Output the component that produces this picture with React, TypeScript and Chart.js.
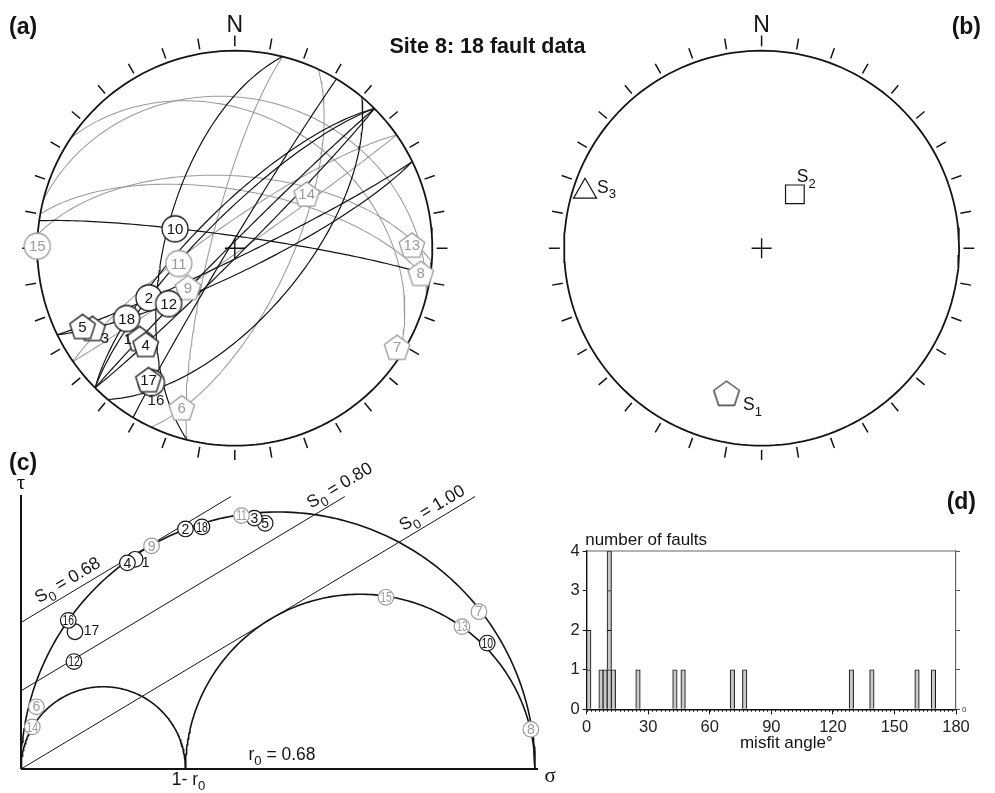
import React, { useEffect, useRef } from "react";
import { Chart, registerables } from "chart.js";

Chart.register(...registerables);

// ================= DATA =================
const siteName = "Site 8";
const faultNumbers = [1, 2, 3, 4, 5, 6, 7, 8, 9, 10, 11, 12, 13, 14, 15, 16, 17, 18];
// fault planes (dip direction / dip, degrees)
const planeDipDirection = [315, 315, 154, 135, 154, 284, 34, 10, 145, 8, 325, 284, 14, 115, 4, 301, 130, 315];
const planeDip = [88, 77, 80, 87, 86, 80, 34, 66, 88, 85, 80, 61, 25, 67, 60, 88, 62, 74];
// striae (trend / plunge, degrees)
const striaeTrend = [226.5, 240, 240.6, 222.8, 242.8, 198.4, 121.4, 97.7, 230, 288, 254.7, 230, 89, 53, 270.6, 211.8, 213.3, 237];
const striaePlunge = [34, 48.4, 18.4, 34, 14.4, 16, 4.2, 5.6, 64.7, 64, 66, 54, 11.3, 52.4, 0, 21, 21.5, 35];
const markerShape = ["pentagon", "circle", "pentagon", "pentagon", "pentagon", "pentagon", "pentagon", "pentagon", "pentagon", "circle", "circle", "circle", "pentagon", "pentagon", "circle", "circle", "pentagon", "circle"];
const highMisfit = [false, false, false, false, false, true, true, true, true, false, true, false, true, true, true, false, false, false];

// Mohr diagram (normalised sigma / tau)
const mohrSigma = [0.222, 0.32, 0.454, 0.207, 0.475, 0.03, 0.891, 0.992, 0.254, 0.907, 0.429, 0.103, 0.858, 0.022, 0.71, 0.092, 0.105, 0.352];
const mohrTau = [0.408, 0.467, 0.488, 0.401, 0.478, 0.121, 0.306, 0.077, 0.434, 0.245, 0.493, 0.209, 0.277, 0.082, 0.334, 0.289, 0.267, 0.471];
const r0 = 0.68;
const s0Values = [0.68, 0.8, 1.0];
const s0Intercepts = [0.285, 0.152, 0];
const s0Slope = 0.6;
const tauAxisMax = 0.533;
const sigmaAxisMax = 1.006;

// principal stress axes
const stressAxes = ["1", "2", "3"];
const stressTrend = [193.6, 31.7, 287.8];
const stressPlunge = [25.4, 63.8, 6.8];

// misfit histogram
const misfitBinStart = [0, 6, 8, 10, 12, 24, 42, 46, 70, 76, 128, 138, 160, 168];
const misfitBinCount = [2, 1, 1, 4, 1, 1, 1, 1, 1, 1, 1, 1, 1, 1];
const misfitBinWidth = 2;
const misfitMax = 180;
const misfitTickStep = 30;
const countMax = 4;

// ================= STYLE / LAYOUT =================
const FONT = "'Liberation Sans', Arial, Helvetica, sans-serif";
const SERIF = "'Liberation Serif', 'Times New Roman', serif";
const BLACK = "#141414";
const GREY = "#9a9a9a";
const D2R = Math.PI / 180;

function projectLine(trend: number, plunge: number) {
  const r = Math.SQRT2 * Math.sin(((90 - plunge) / 2) * D2R);
  return { x: r * Math.sin(trend * D2R), y: r * Math.cos(trend * D2R) };
}

function greatCircle(dipDir: number, dip: number) {
  const st = (dipDir - 90) * D2R;
  const dd = dipDir * D2R;
  const d = dip * D2R;
  const pts: { x: number; y: number }[] = [];
  for (let a = 0; a <= 180; a += 2) {
    const ca = Math.cos(a * D2R);
    const sa = Math.sin(a * D2R);
    const e = ca * Math.sin(st) + sa * Math.cos(d) * Math.sin(dd);
    const n = ca * Math.cos(st) + sa * Math.cos(d) * Math.cos(dd);
    const down = sa * Math.sin(d);
    const plunge = Math.asin(Math.max(-1, Math.min(1, down))) / D2R;
    const trend = Math.atan2(e, n) / D2R;
    pts.push(projectLine(trend, plunge));
  }
  return pts;
}

function markerCanvas(shape: string, color: string, size: number, lw = 1.3) {
  const pad = 3;
  const S = Math.ceil(size + pad * 2);
  const c = document.createElement("canvas");
  c.width = S;
  c.height = S;
  const g = c.getContext("2d")!;
  g.translate(S / 2, S / 2);
  g.beginPath();
  if (shape === "circle") {
    g.arc(0, 0, size / 2, 0, Math.PI * 2);
  } else {
    const r = size / 1.902;
    const yOff = (r * (1 - Math.cos(36 * D2R))) / 2;
    for (let i = 0; i < 5; i++) {
      const ang = (-90 + 72 * i) * D2R;
      const px = r * Math.cos(ang);
      const py = r * Math.sin(ang) + yOff;
      if (i === 0) g.moveTo(px, py);
      else g.lineTo(px, py);
    }
    g.closePath();
  }
  g.fillStyle = "#fff";
  g.fill();
  g.strokeStyle = color;
  g.lineWidth = lw;
  g.stroke();
  return c;
}

type Seg = { t: string; sub?: boolean };
function drawRich(ctx: CanvasRenderingContext2D, segs: Seg[], x: number, y: number, size: number, align: "left" | "center", color: string, family = FONT, weight = "") {
  const subSize = size * 0.75;
  ctx.save();
  ctx.fillStyle = color;
  ctx.textAlign = "left";
  ctx.textBaseline = "alphabetic";
  let w = 0;
  const ws: number[] = [];
  for (const s of segs) {
    ctx.font = `${weight} ${s.sub ? subSize : size}px ${family}`;
    const m = ctx.measureText(s.t).width;
    ws.push(m);
    w += m;
  }
  let cx = align === "center" ? x - w / 2 : x;
  segs.forEach((s, i) => {
    ctx.font = `${weight} ${s.sub ? subSize : size}px ${family}`;
    ctx.fillText(s.t, cx, y + (s.sub ? size * 0.3 : 0));
    cx += ws[i];
  });
  ctx.restore();
}

function lineDs(data: any[], color: string, width: number, xID: string, yID: string, extra: any = {}) {
  return {
    type: "scatter",
    data,
    showLine: true,
    borderColor: color,
    borderWidth: width,
    pointRadius: 0,
    fill: false,
    tension: 0,
    xAxisID: xID,
    yAxisID: yID,
    order: 10,
    ...extra,
  };
}

function primitiveData() {
  const pts = [];
  for (let t = 0; t <= 360; t += 2) pts.push(projectLine(t, 0));
  return pts;
}

function tickData() {
  const pts: any[] = [];
  for (let t = 0; t < 360; t += 10) {
    const s = Math.sin(t * D2R);
    const c = Math.cos(t * D2R);
    pts.push({ x: 1.022 * s, y: 1.022 * c });
    pts.push({ x: 1.077 * s, y: 1.077 * c });
    pts.push({ x: NaN, y: NaN });
  }
  return pts;
}

// marker-label helper (draws labels right after the marker dataset)
const markerLabelPlugin = {
  id: "markerLabels",
  afterDatasetDraw(chart: any, args: any) {
    const ds = chart.data.datasets[args.index];
    if (!ds.markerLabels) return;
    const meta = chart.getDatasetMeta(args.index);
    const ctx = chart.ctx as CanvasRenderingContext2D;
    ctx.save();
    ctx.textAlign = "center";
    ctx.textBaseline = "middle";
    meta.data.forEach((el: any, i: number) => {
      const txt = ds.markerLabels[i];
      const off = ds.labelOffsets ? ds.labelOffsets[i] : null;
      ctx.fillStyle = ds.labelColors[i];
      const size = off ? ds.outsideFontSize : ds.fontSize;
      ctx.font = `${size}px ${FONT}`;
      const x = el.x + (off ? off[0] : 0);
      const y = el.y + (off ? off[1] : ds.textDy || 0);
      if (!off && txt.length > 1 && ds.condense) {
        ctx.save();
        ctx.translate(x, y);
        ctx.scale(ds.condense, 1);
        ctx.fillText(txt, 0, 0);
        ctx.restore();
      } else {
        ctx.fillText(txt, x, y);
      }
    });
    ctx.restore();
  },
};

// ================= TOP: stereonets (a) and (b) =================
function makeTop(canvas: HTMLCanvasElement) {
  const W = 995;
  const H = 460;
  const netA = { cx: 234.8, cy: 248.2, R: 197.5 };
  const netB = { cx: 761.6, cy: 248.2, R: 197.5 };

  const datasets: any[] = [];
  // (a) great circles: grey underneath, black on top
  const order = faultNumbers.map((_, i) => i);
  order.forEach((i) => {
    datasets.push(
      lineDs(greatCircle(planeDipDirection[i], planeDip[i]), highMisfit[i] ? GREY : BLACK, highMisfit[i] ? 1.05 : 1.2, "xa", "ya", {
        order: highMisfit[i] ? 12 : 11,
      })
    );
  });
  for (const ids of [["xa", "ya"], ["xb", "yb"]]) {
    datasets.push(lineDs(primitiveData(), BLACK, 1.8, ids[0], ids[1], { order: 9 }));
    datasets.push(lineDs(tickData(), BLACK, 1.5, ids[0], ids[1], { order: 9 }));
    datasets.push({
      type: "scatter",
      data: [{ x: 0, y: 0 }],
      pointStyle: "cross",
      pointRadius: 10,
      pointBorderColor: BLACK,
      pointBorderWidth: 1.4,
      xAxisID: ids[0],
      yAxisID: ids[1],
      order: 8,
    });
  }

  // fault striae markers
  const behindNums = [1, 3, 16];
  const outsideOffsets: Record<number, number[]> = { 1: [-12, 1], 3: [12.5, 10], 16: [4.5, 18] };
  const mk = (idxs: number[], ord: number) => ({
    type: "scatter",
    data: idxs.map((i) => projectLine(striaeTrend[i], striaePlunge[i])),
    pointStyle: idxs.map((i) => markerCanvas(markerShape[i], highMisfit[i] ? GREY : BLACK, markerShape[i] === "circle" ? 26 : 25.5)),
    pointRadius: 12,
    xAxisID: "xa",
    yAxisID: "ya",
    order: ord,
    markerLabels: idxs.map((i) => String(faultNumbers[i])),
    labelColors: idxs.map((i) => (highMisfit[i] ? GREY : BLACK)),
    labelOffsets: idxs.map((i) => outsideOffsets[faultNumbers[i]] || null),
    fontSize: 15,
    outsideFontSize: 15,
    textDy: 1,
  });
  datasets.push(mk(order.filter((i) => behindNums.includes(faultNumbers[i])), 2));
  datasets.push(mk(order.filter((i) => !behindNums.includes(faultNumbers[i])), 1));

  // (b) stress axes
  const stressStyles: any[] = [markerCanvas("pentagon", BLACK, 25.5, 1.2), "rect", "triangle"];
  const stressRadius = [12, 13.2, 13.3];
  datasets.push({
    type: "scatter",
    data: stressAxes.map((_, i) => projectLine(stressTrend[i], stressPlunge[i])),
    pointStyle: stressStyles,
    pointRadius: stressRadius,
    pointBackgroundColor: "#fff",
    pointBorderColor: BLACK,
    pointBorderWidth: 1.2,
    xAxisID: "xb",
    yAxisID: "yb",
    order: 0,
    stressLabels: true,
  });

  const textPlugin = {
    id: "topText",
    afterDraw(chart: any) {
      const ctx = chart.ctx as CanvasRenderingContext2D;
      const s = chart.scales;
      ctx.save();
      ctx.fillStyle = BLACK;
      ctx.textBaseline = "alphabetic";
      // N labels
      ctx.font = `23px ${FONT}`;
      ctx.textAlign = "center";
      ctx.fillText("N", s.xa.getPixelForValue(0), s.ya.getPixelForValue(1) - 18.5);
      ctx.fillText("N", s.xb.getPixelForValue(0), s.yb.getPixelForValue(1) - 18.5);
      // panel letters
      ctx.font = `bold 23px ${FONT}`;
      ctx.textAlign = "left";
      ctx.fillText("(a)", 9, 34);
      ctx.textAlign = "right";
      ctx.fillText("(b)", 981, 34);
      // title
      ctx.font = `bold 21.5px ${FONT}`;
      ctx.textAlign = "center";
      ctx.fillText(`${siteName}: ${faultNumbers.length} fault data`, 487.5, 53);
      ctx.restore();
      // stress labels
      const idx = chart.data.datasets.findIndex((d: any) => d.stressLabels);
      const meta = chart.getDatasetMeta(idx);
      const offs = [
        [16.5, 17],
        [2, -12],
        [12, 1.5],
      ];
      meta.data.forEach((el: any, i: number) => {
        drawRich(ctx, [{ t: "S" }, { t: stressAxes[i], sub: true }], el.x + offs[i][0], el.y + offs[i][1], 17.5, "left", BLACK);
      });
    },
  };

  return new Chart(canvas, {
    type: "scatter",
    data: { datasets },
    options: {
      animation: false,
      responsive: false,
      events: [],
      layout: { padding: 0, autoPadding: false } as any,
      plugins: { legend: { display: false }, tooltip: { enabled: false } },
      scales: {
        xa: { type: "linear", display: false, min: -netA.cx / netA.R, max: (W - netA.cx) / netA.R },
        ya: { type: "linear", display: false, min: -(H - netA.cy) / netA.R, max: netA.cy / netA.R },
        xb: { type: "linear", display: false, min: -netB.cx / netB.R, max: (W - netB.cx) / netB.R },
        yb: { type: "linear", display: false, min: -(H - netB.cy) / netB.R, max: netB.cy / netB.R },
      },
    } as any,
    plugins: [markerLabelPlugin, textPlugin],
  } as any);
}

// ================= (c) Mohr diagram =================
function makeMohr(canvas: HTMLCanvasElement) {
  const W = 560;
  const H = 353;
  const ox = 21;
  const oy = 329;
  const U = 514;

  const semi = (c: number, r: number) => {
    const pts = [];
    for (let a = 0; a <= 180; a += 1) pts.push({ x: c - r * Math.cos(a * D2R), y: r * Math.sin(a * D2R) });
    return pts;
  };
  const datasets: any[] = [];
  datasets.push(lineDs([{ x: 0, y: 0 }, { x: 0, y: tauAxisMax }], BLACK, 2, "x", "y"));
  datasets.push(lineDs([{ x: 0, y: 0 }, { x: sigmaAxisMax, y: 0 }], BLACK, 2, "x", "y"));
  datasets.push(lineDs(semi(0.5, 0.5), BLACK, 1.6, "x", "y"));
  datasets.push(lineDs(semi((1 - r0) / 2, (1 - r0) / 2), BLACK, 1.6, "x", "y"));
  datasets.push(lineDs(semi((1 + (1 - r0)) / 2, r0 / 2), BLACK, 1.6, "x", "y"));
  s0Values.forEach((_, k) => {
    const c = s0Intercepts[k];
    datasets.push(
      lineDs(
        [
          { x: 0, y: c },
          { x: (tauAxisMax - 0.003 - c) / s0Slope, y: tauAxisMax - 0.003 },
        ],
        BLACK,
        1,
        "x",
        "y"
      )
    );
  });
  const behindNums = [1, 5, 17];
  const outside: Record<number, number[]> = { 1: [10.5, 4], 17: [16.5, -1] };
  const order = faultNumbers.map((_, i) => i);
  const mk = (idxs: number[], ord: number) => ({
    type: "scatter",
    data: idxs.map((i) => ({ x: mohrSigma[i], y: mohrTau[i] })),
    pointStyle: "circle",
    pointRadius: 7.8,
    pointBackgroundColor: "#fff",
    pointBorderColor: idxs.map((i) => (highMisfit[i] ? GREY : BLACK)),
    pointBorderWidth: 1.2,
    xAxisID: "x",
    yAxisID: "y",
    order: ord,
    markerLabels: idxs.map((i) => String(faultNumbers[i])),
    labelColors: idxs.map((i) => (highMisfit[i] ? GREY : BLACK)),
    labelOffsets: idxs.map((i) => outside[faultNumbers[i]] || null),
    fontSize: 14,
    outsideFontSize: 14,
    condense: 0.74,
    textDy: 0.8,
  });
  datasets.push(mk(order.filter((i) => behindNums.includes(faultNumbers[i])), 2));
  datasets.push(mk(order.filter((i) => !behindNums.includes(faultNumbers[i])), 1));

  const labelSigma = [0.103, 0.632, 0.812];
  const textPlugin = {
    id: "mohrText",
    afterDraw(chart: any) {
      const ctx = chart.ctx as CanvasRenderingContext2D;
      const xs = chart.scales.x;
      const ys = chart.scales.y;
      const ang = Math.atan(s0Slope);
      s0Values.forEach((v, k) => {
        const sg = labelSigma[k];
        const px = xs.getPixelForValue(sg);
        const py = ys.getPixelForValue(s0Intercepts[k] + s0Slope * sg);
        ctx.save();
        ctx.translate(px, py);
        ctx.rotate(-ang);
        drawRich(ctx, [{ t: "S" }, { t: "0", sub: true }, { t: ` = ${v.toFixed(2)}` }], 0, -7, 17.5, "center", BLACK);
        ctx.restore();
      });
      const x0 = xs.getPixelForValue(0);
      const y0 = ys.getPixelForValue(0);
      ctx.save();
      ctx.fillStyle = BLACK;
      ctx.font = `21px ${SERIF}`;
      ctx.textAlign = "center";
      ctx.fillText("τ", x0, ys.getPixelForValue(tauAxisMax) - 6);
      ctx.fillText("σ", xs.getPixelForValue(sigmaAxisMax) + 12, y0 + 13);
      ctx.font = `bold 23px ${FONT}`;
      ctx.textAlign = "left";
      ctx.fillText("(c)", 9, 30);
      ctx.restore();
      drawRich(ctx, [{ t: "1- r" }, { t: "0", sub: true }], xs.getPixelForValue(1 - r0) + 3, y0 + 16, 17.5, "center", BLACK);
      drawRich(ctx, [{ t: "r" }, { t: "0", sub: true }, { t: ` = ${r0.toFixed(2)}` }], xs.getPixelForValue(0.5) + 4, y0 - 9, 17.5, "center", BLACK);
    },
  };

  return new Chart(canvas, {
    type: "scatter",
    data: { datasets },
    options: {
      animation: false,
      responsive: false,
      events: [],
      layout: { padding: 0, autoPadding: false } as any,
      plugins: { legend: { display: false }, tooltip: { enabled: false } },
      scales: {
        x: { type: "linear", display: false, min: -ox / U, max: (W - ox) / U },
        y: { type: "linear", display: false, min: -(H - oy) / U, max: oy / U },
      },
    } as any,
    plugins: [markerLabelPlugin, textPlugin],
  } as any);
}

// ================= (d) misfit histogram =================
function makeHist(canvas: HTMLCanvasElement) {
  const W = 435;
  const H = 333;
  const area = { left: 26.7, right: 396, top: 91, bottom: 249.3 };
  const datasets: any[] = [];
  const maxCount = Math.max(...misfitBinCount);
  for (let k = 1; k <= maxCount; k++) {
    const data = misfitBinStart
      .map((s, i) => (misfitBinCount[i] >= k ? { x: s + misfitBinWidth / 2, y: 1 } : null))
      .filter((d) => d !== null);
    datasets.push({
      data,
      backgroundColor: "#c9c9c9",
      borderColor: "#1a1a1a",
      borderWidth: 1.1,
      barThickness: ((area.right - area.left) / misfitMax) * misfitBinWidth + 0.4,
    });
  }
  const ticksX: number[] = [];
  for (let v = 0; v <= misfitMax; v += misfitTickStep) ticksX.push(v);

  const deco = {
    id: "histDeco",
    afterDraw(chart: any) {
      const ctx = chart.ctx as CanvasRenderingContext2D;
      const ca = chart.chartArea;
      const xs = chart.scales.x;
      ctx.save();
      ctx.strokeStyle = "#666";
      ctx.lineWidth = 1.2;
      ctx.beginPath();
      ctx.moveTo(ca.left, ca.top);
      ctx.lineTo(ca.right, ca.top);
      ctx.stroke();
      ctx.strokeStyle = "#222";
      ctx.lineWidth = 1;
      ctx.beginPath();
      for (let v = 0; v <= misfitMax; v += misfitBinWidth) {
        const px = Math.round(xs.getPixelForValue(v)) + 0.5;
        ctx.moveTo(px, ca.bottom);
        ctx.lineTo(px, ca.bottom + 2.5);
      }
      ctx.stroke();
      ctx.fillStyle = BLACK;
      ctx.font = `17px ${FONT}`;
      ctx.textAlign = "left";
      ctx.fillText("number of faults", ca.left - 1.5, ca.top - 6);
      ctx.textAlign = "center";
      ctx.fillText("misfit angle°", xs.getPixelForValue(misfitMax / 2) + 15, ca.bottom + 38.5);
      ctx.font = `bold 23px ${FONT}`;
      ctx.textAlign = "right";
      ctx.fillText("(d)", 416, 49);
      ctx.restore();
    },
  };

  return new Chart(canvas, {
    type: "bar",
    data: { datasets },
    options: {
      animation: false,
      responsive: false,
      events: [],
      layout: { padding: { top: area.top, left: 0, right: 0, bottom: 0 } },
      plugins: { legend: { display: false }, tooltip: { enabled: false } },
      scales: {
        x: {
          type: "linear",
          min: 0,
          max: misfitMax,
          offset: false,
          stacked: true,
          afterBuildTicks: (s: any) => {
            s.ticks = ticksX.map((v) => ({ value: v }));
          },
          ticks: { autoSkip: false, maxRotation: 0, padding: 3, color: "#222", font: { family: FONT, size: 16.5 } },
          grid: { drawOnChartArea: false, tickLength: 5, color: "#111", offset: false },
          border: { color: "#111", width: 1.4 },
          afterFit: (s: any) => {
            s.height = H - area.bottom;
          },
        },
        y: {
          min: 0,
          max: countMax,
          stacked: true,
          ticks: { stepSize: 1, padding: 3, color: "#222", font: { family: FONT, size: 16.5 } },
          grid: { drawOnChartArea: false, tickLength: 4, color: "#111" },
          border: { color: "#111", width: 1.4 },
          afterFit: (s: any) => {
            s.width = area.left;
          },
        },
        y2: {
          position: "right",
          min: 0,
          max: countMax,
          ticks: { stepSize: 1, padding: 2, color: "#333", font: { family: FONT, size: 8 }, callback: (v: any) => (v === 0 ? "0" : "") },
          grid: { drawOnChartArea: false, tickLength: 4, color: "#555" },
          border: { color: "#666", width: 1.2 },
          afterFit: (s: any) => {
            s.width = W - area.right;
          },
        },
      },
    } as any,
    plugins: [deco],
  } as any);
}

export default function App() {
  const topRef = useRef<HTMLCanvasElement>(null);
  const mohrRef = useRef<HTMLCanvasElement>(null);
  const histRef = useRef<HTMLCanvasElement>(null);
  useEffect(() => {
    const charts = [makeTop(topRef.current!), makeMohr(mohrRef.current!), makeHist(histRef.current!)];
    return () => charts.forEach((c) => c.destroy());
  }, []);
  return (
    <div style={{ position: "fixed", left: 0, top: 0, width: 995, height: 793, background: "#fff", overflow: "hidden" }}>
      <canvas ref={topRef} width={995} height={460} style={{ position: "absolute", left: 0, top: 0 }} />
      <canvas ref={mohrRef} width={560} height={353} style={{ position: "absolute", left: 0, top: 440 }} />
      <canvas ref={histRef} width={435} height={333} style={{ position: "absolute", left: 560, top: 460 }} />
    </div>
  );
}
